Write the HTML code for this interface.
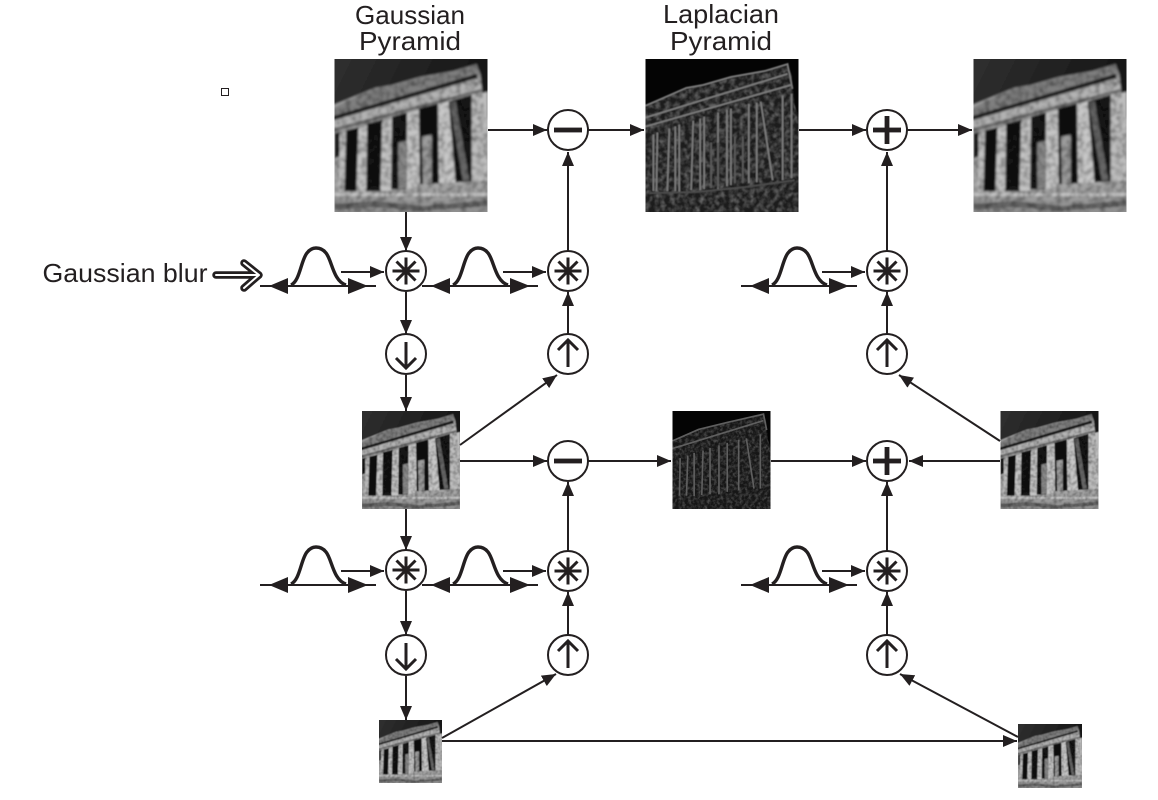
<!DOCTYPE html>
<html>
<head>
<meta charset="utf-8">
<style>
html,body{margin:0;padding:0;background:#fff;width:1158px;height:800px;overflow:hidden}
svg{display:block}
text{font-family:"Liberation Sans",sans-serif;fill:#231f20;font-size:26px;text-anchor:middle}
</style>
</head>
<body>
<svg width="1158" height="800" viewBox="0 0 1158 800" xmlns="http://www.w3.org/2000/svg">
<defs>
<linearGradient id="sky" x1="0" y1="0" x2="1" y2="0.5">
<stop offset="0" stop-color="#303030"/><stop offset="1" stop-color="#101010"/>
</linearGradient>
<linearGradient id="stone" x1="0" y1="0" x2="0" y2="1">
<stop offset="0" stop-color="#9a9a9a"/><stop offset="0.8" stop-color="#a8a8a8"/><stop offset="1" stop-color="#8c8c8c"/>
</linearGradient>
<filter id="b1" x="-5%" y="-5%" width="110%" height="110%"><feGaussianBlur stdDeviation="1"/></filter>
<filter id="b2" x="-5%" y="-5%" width="110%" height="110%"><feGaussianBlur stdDeviation="0.6"/></filter>
<filter id="mot" x="0" y="0" width="100%" height="100%" color-interpolation-filters="sRGB">
<feTurbulence type="fractalNoise" baseFrequency="0.18" numOctaves="3" seed="4"/>
<feColorMatrix type="matrix" values="0 0 0 0 0  0 0 0 0 0  0 0 0 0 0  0.8 0 0 0 -0.3"/>
</filter>
<filter id="motw" x="0" y="0" width="100%" height="100%" color-interpolation-filters="sRGB">
<feTurbulence type="fractalNoise" baseFrequency="0.2" numOctaves="3" seed="9"/>
<feColorMatrix type="matrix" values="0 0 0 0 1  0 0 0 0 1  0 0 0 0 1  0.7 0 0 0 -0.27"/>
</filter>

<clipPath id="clipT"><rect width="154" height="154"/></clipPath>
<clipPath id="clipB"><polygon points="0,47 41,29 58,26 86,18 120,12 143,5 147,16 150,45 154,66 154,154 0,154"/></clipPath>

<symbol id="temple" viewBox="0 0 154 154">
<g clip-path="url(#clipT)"><g filter="url(#b1)">
<rect x="-3" y="-3" width="160" height="160" fill="url(#sky)"/>
<polygon points="-3,47 41,29 58,26 86,18 120,12 143,5 147,16 150,45 157,66 157,157 -3,157" fill="url(#stone)"/>
<polygon points="-3,50 41,29 58,26 86,18 120,12 143,5 147,16 -3,62" fill="#7f7f7f"/>
<polygon points="-3,58 143,15 144,19 -3,62" fill="#1f1f1f"/>
<polygon points="-3,63 147,20 148,34 -3,74" fill="#b4b4b4"/>
<polygon points="-3,70 148,30 148,33 -3,74" fill="#707070"/>
<!-- bright columns -->
<polygon points="5,76 11,74 10,134 4,134" fill="#c2c2c2"/>
<polygon points="24,70 33,67 32,134 22,134" fill="#c4c4c4"/>
<polygon points="48,63 58,60 57,132 46,133" fill="#c4c4c4"/>
<polygon points="73,55 85,52 86,127 72,131" fill="#c6c6c6"/>
<polygon points="104,46 115,43 122,124 105,125" fill="#c8c8c8"/>
<polygon points="138,37 154,33 154,122 138,123" fill="#bdbdbd"/>
<!-- dark gaps -->
<polygon points="0,75 5,74 5,98 0,100" fill="#141414"/>
<polygon points="12,72 24,69 22,133 10,133" fill="#101010"/>
<polygon points="33,65 48,61 46,133 32,133" fill="#121212"/>
<polygon points="58,58 73,54 72,131 57,131" fill="#141414"/>
<polygon points="85,50 104,45 105,125 86,126" fill="#101010"/>
<polygon points="115,43 138,36 138,123 122,124" fill="#141414"/>
<polygon points="64,84 73,82 73,130 64,131" fill="#8a8a8a"/>
<polygon points="88,78 98,76 98,125 89,126" fill="#9c9c9c"/>
<polygon points="116,44 122,42 136,122 129,123" fill="#666"/>
<rect x="-3" y="135" width="160" height="3" fill="#c4c4c4"/>
<polygon points="0,146 40,143 90,148 154,142 154,148 90,153 40,149 0,152" fill="#666"/>
<g clip-path="url(#clipB)"><rect width="154" height="154" filter="url(#mot)"/></g>
</g></g>
</symbol>

<symbol id="lap" viewBox="0 0 154 154">
<g clip-path="url(#clipT)">
<rect width="154" height="154" fill="#040404"/>
<g filter="url(#b2)">
<polygon points="-3,47 41,29 58,26 86,18 120,12 143,5 147,16 150,45 157,66 157,157 -3,157" fill="#1e1e1e"/>
<g clip-path="url(#clipB)"><rect width="154" height="154" filter="url(#motw)"/></g>
<g fill="none" stroke="#7a7a7a" stroke-width="1.8">
<polyline points="0,47 41,29 58,26 86,18 120,12 143,5 148,30"/>
<polyline points="0,59 143,15"/>
<polyline points="0,68 147,26"/>
<path d="M8,76V133 M12,74 L11,133 M24,70 L22,133 M30,68V133 M34,66V134 M48,62 L46,132 M55,60V132 M59,58V131 M73,54V131 M82,51V128 M86,50V127 M104,45V125 M112,44V124 M116,43 L128,122 M138,37V122 M147,35V120"/>
<path d="M66,84V130 M73,84V130 M90,78V125 M98,78V125" stroke="#5a5a5a"/>
<path d="M4,135 L50,134 L100,129 L150,122" stroke="#4c4c4c"/>
</g>
</g>
</g>
</symbol>

<symbol id="lap2" viewBox="0 0 154 154">
<g clip-path="url(#clipT)">
<rect width="154" height="154" fill="#040404"/>
<g filter="url(#b2)">
<polygon points="-3,47 41,29 58,26 86,18 120,12 143,5 147,16 150,45 157,66 157,157 -3,157" fill="#181818"/>
<g clip-path="url(#clipB)"><rect width="154" height="154" filter="url(#motw)" opacity="0.7"/></g>
<g fill="none" stroke="#5e5e5e" stroke-width="2.6">
<polyline points="0,47 41,29 86,18 143,5 148,30"/>
<polyline points="0,59 143,15"/>
<path d="M12,74 L11,133 M24,70 L22,133 M34,66V134 M48,62 L46,132 M59,58V131 M73,54V131 M86,50V127 M104,45V125 M116,43 L128,122 M138,37V122"/>
</g>
</g>
</g>
</symbol>

<g id="ring"><circle r="20" fill="#fff" stroke="#231f20" stroke-width="2"/></g>
<g id="star"><use href="#ring"/><path d="M-13.5,0H13.5M0,-13.5V13.5M-9.5,-9.5L9.5,9.5M-9.5,9.5L9.5,-9.5" stroke="#231f20" stroke-width="3" fill="none"/></g>
<g id="down"><use href="#ring"/><path d="M0,-12V14M-10,4L0,14L10,4" stroke="#231f20" stroke-width="3" fill="none"/></g>
<g id="up"><use href="#ring"/><path d="M0,13V-14M-10,-4L0,-14L10,-4" stroke="#231f20" stroke-width="3" fill="none"/></g>
<g id="minus"><use href="#ring"/><rect x="-14" y="-2.4" width="28" height="4.8" fill="#231f20"/></g>
<g id="plus"><use href="#ring"/><rect x="-14" y="-2.4" width="28" height="4.8" fill="#231f20"/><rect x="-2.4" y="-14" width="4.8" height="28" fill="#231f20"/></g>

<marker id="ah" viewBox="0 0 14 12" refX="14" refY="6" markerWidth="14" markerHeight="12" markerUnits="userSpaceOnUse" orient="auto">
<path d="M0,0L14,6L0,12Z" fill="#231f20"/>
</marker>

<g id="kern">
<path d="M0,38H116" stroke="#231f20" stroke-width="2" fill="none"/>
<path d="M9,38L28,30V46Z M108,38L88,30V46Z" fill="#231f20"/>
<path d="M31,37C40,33 41,12 47,5C50,1 53,0 56,0C59,0 63,1 66,5C72,12 73,33 86,37" stroke="#231f20" stroke-width="3.4" fill="none"/>
<path d="M81,24H124" stroke="#231f20" stroke-width="2" fill="none" marker-end="url(#ah)"/>
</g>
</defs>

<rect width="1158" height="800" fill="#fff"/>

<!-- labels -->
<text x="410" y="24" textLength="110" lengthAdjust="spacingAndGlyphs">Gaussian</text>
<text x="410" y="50" textLength="102" lengthAdjust="spacingAndGlyphs">Pyramid</text>
<text x="721" y="23" textLength="116" lengthAdjust="spacingAndGlyphs">Laplacian</text>
<text x="721" y="50" textLength="102" lengthAdjust="spacingAndGlyphs">Pyramid</text>
<text x="125" y="282" textLength="165" lengthAdjust="spacingAndGlyphs">Gaussian blur</text>

<!-- small square -->
<rect x="221.5" y="88.5" width="7" height="7" fill="#fff" stroke="#231f20" stroke-width="1"/>

<!-- images -->
<use href="#temple" x="334" y="59" width="154" height="153"/>
<use href="#lap" x="645" y="59" width="154" height="153"/>
<use href="#temple" x="973" y="59" width="154" height="153"/>
<use href="#temple" x="362" y="411" width="98" height="98"/>
<use href="#lap2" x="672" y="411" width="99" height="98"/>
<use href="#temple" x="1000" y="411" width="99" height="98"/>
<use href="#temple" x="379" y="720" width="63" height="63"/>
<use href="#temple" x="1018" y="724" width="64" height="64"/>

<!-- connectors -->
<g stroke="#231f20" stroke-width="2" fill="none" marker-end="url(#ah)">
<path d="M488,130H547"/>
<path d="M588,130H644"/>
<path d="M799,130H866"/>
<path d="M907,130H972"/>
<path d="M568,251V152"/>
<path d="M568,334V292"/>
<path d="M568,551V482"/>
<path d="M568,635V592"/>
<path d="M887,251V152"/>
<path d="M887,334V292"/>
<path d="M887,551V482"/>
<path d="M887,635V592"/>
<path d="M406,212V251"/>
<path d="M406,292V334"/>
<path d="M406,375V411"/>
<path d="M406,509V550"/>
<path d="M406,591V635"/>
<path d="M406,676V720"/>
<path d="M460,445L557,375"/>
<path d="M460,461H547"/>
<path d="M588,461H671"/>
<path d="M771,461H866"/>
<path d="M1000,461H909"/>
<path d="M1000,441L899,375"/>
<path d="M442,738L556,674"/>
<path d="M442,741H1017"/>
<path d="M1018,737L900,674"/>
</g>

<!-- gaussian kernels -->
<use href="#kern" x="260" y="248"/>
<use href="#kern" x="422" y="248"/>
<use href="#kern" x="741" y="248"/>
<use href="#kern" x="260" y="547"/>
<use href="#kern" x="422" y="547"/>
<use href="#kern" x="741" y="547"/>

<!-- operators -->
<use href="#minus" x="568" y="130"/>
<use href="#plus" x="887" y="130"/>
<use href="#star" x="406" y="271"/>
<use href="#star" x="568" y="271"/>
<use href="#star" x="887" y="271"/>
<use href="#down" x="406" y="354"/>
<use href="#up" x="568" y="354"/>
<use href="#up" x="887" y="354"/>
<use href="#minus" x="568" y="461"/>
<use href="#plus" x="887" y="461"/>
<use href="#star" x="406" y="570"/>
<use href="#star" x="568" y="571"/>
<use href="#star" x="887" y="571"/>
<use href="#down" x="406" y="655"/>
<use href="#up" x="568" y="655"/>
<use href="#up" x="887" y="655"/>

<!-- double arrow -->
<path d="M216,275H257M244,263L259,275L244,288" fill="none" stroke="#231f20" stroke-width="7.5" stroke-linecap="round" stroke-linejoin="round"/>
<path d="M216,275H257M244,263L259,275L244,288" fill="none" stroke="#fff" stroke-width="2" stroke-linecap="round" stroke-linejoin="round"/>
</svg>
</body>
</html>
